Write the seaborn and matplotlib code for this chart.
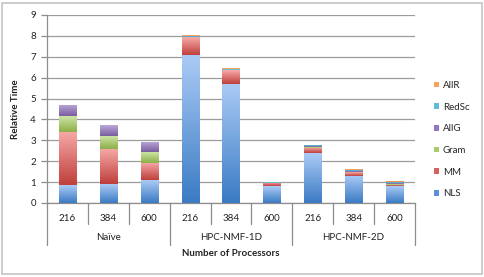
import numpy as np
import pandas as pd
import matplotlib
matplotlib.use("Agg")
import matplotlib.pyplot as plt
import seaborn as sns
from matplotlib.patches import Patch, Rectangle
from matplotlib.colors import LinearSegmentedColormap

groups = ["Naïve", "HPC-NMF-1D", "HPC-NMF-2D"]
procs = ["216", "384", "600"]
components = ["NLS", "MM", "Gram", "AllG", "RedSc", "AllR"]

nls   = [0.85, 0.90, 1.09, 7.08, 5.71, 0.80, 2.39, 1.31, 0.80]
mm    = [2.55, 1.68, 0.82, 0.85, 0.65, 0.15, 0.25, 0.16, 0.08]
gram  = [0.77, 0.64, 0.54, 0.01, 0.01, 0.005, 0.02, 0.02, 0.02]
allg  = [0.53, 0.50, 0.48, 0.02, 0.02, 0.01, 0.05, 0.05, 0.05]
redsc = [0.00, 0.00, 0.00, 0.05, 0.04, 0.02, 0.05, 0.05, 0.05]
allr  = [0.00, 0.00, 0.00, 0.04, 0.04, 0.03, 0.04, 0.04, 0.05]
values = [nls, mm, gram, allg, redsc, allr]

# (top, bottom) gradient colours, Excel 2007 style
grad = {
    "NLS":   ("#AACAF5", "#3B7BC4"),
    "MM":    ("#F6AAA8", "#BF3F3C"),
    "Gram":  ("#D2E8AA", "#8BAF48"),
    "AllG":  ("#BBA9D8", "#7A5E9F"),
    "RedSc": ("#A2DAEB", "#38A0C0"),
    "AllR":  ("#FCC28C", "#F0872E"),
}
solid = {"NLS": "#5B8FD6", "MM": "#D9605D", "Gram": "#A8CB6A",
         "AllG": "#9279B8", "RedSc": "#5FBCD8", "AllR": "#F6A25A"}

cats = [f"{g}|{p}" for g in groups for p in procs]

sns.set_theme(style="white")
plt.rcParams["font.family"] = ["Lato", "DejaVu Sans"]

W, H = 485, 277
fig = plt.figure(figsize=(W / 100, H / 100), dpi=100)
ax = fig.add_axes([47 / W, 1 - 203 / H, (415 - 47) / W, (203 - 15) / H])

bottom = np.zeros(len(cats))
bar_comp = []
for comp, vals in zip(components, values):
    vals = np.array(vals)
    n_before = len(ax.patches)
    sns.barplot(x=cats, y=vals, bottom=bottom, color=solid[comp], width=0.42,
                ax=ax, order=cats, saturation=1, linewidth=0, zorder=3)
    for p in ax.patches[n_before:]:
        bar_comp.append((p, comp))
    bottom = bottom + vals

ax.set_xlim(-0.5, len(cats) - 0.5)
ax.set_ylim(0, 9)

# gradient fills clipped to bars
for p, comp in bar_comp:
    h = p.get_height()
    if h <= 0:
        continue
    top, bot = grad[comp]
    cmap = LinearSegmentedColormap.from_list("g", [bot, top])
    grad_arr = np.linspace(0, 1, 64).reshape(-1, 1)
    x0, y0, w = p.get_x(), p.get_y(), p.get_width()
    im = ax.imshow(grad_arr, cmap=cmap, origin="lower", aspect="auto",
                   extent=(x0, x0 + w, y0, y0 + h), zorder=4, interpolation="bilinear")
    im.set_clip_path(p)
ax.set_xlim(-0.5, len(cats) - 0.5)
ax.set_ylim(0, 9)

# grid and axes
ax.set_yticks(range(10))
ax.yaxis.grid(True, color="#9c9c9c", lw=0.9, zorder=0)
ax.xaxis.grid(False)
for s in ["top", "right"]:
    ax.spines[s].set_visible(False)
for s in ["left", "bottom"]:
    ax.spines[s].set_color("#8c8c8c")
    ax.spines[s].set_linewidth(0.9)
ax.tick_params(axis="y", length=4, width=0.9, color="#8c8c8c", pad=4,
               labelsize=7, labelcolor="#222222", left=True)
ax.set_xticks(range(len(cats)))
ax.set_xticklabels([c.split("|")[1] for c in cats])
ax.tick_params(axis="x", length=0, pad=8, labelsize=7, labelcolor="#222222")
ax.set_xlabel("")
ax.set_ylabel("Relative Time", fontsize=7, fontweight="bold", labelpad=7, color="#222222")

# multi-level category separators
tr = ax.get_xaxis_transform()
ah = 203 - 15
for i in range(len(cats) + 1):
    xpos = i - 0.5
    depth = 42 if i % len(procs) == 0 else 21
    ax.plot([xpos, xpos], [0, -depth / ah], transform=tr, color="#8c8c8c",
            lw=0.9, clip_on=False, zorder=1)
for gi, g in enumerate(groups):
    xc = gi * len(procs) + (len(procs) - 1) / 2
    ax.text(xc, -35 / ah, g, transform=tr, ha="center", va="center",
            fontsize=7, color="#222222")
ax.text((len(cats) - 1) / 2, -51 / ah, "Number of Processors", transform=tr,
        ha="center", va="center", fontsize=7, fontweight="bold", color="#222222")

# legend
handles = [Patch(facecolor=solid[c], edgecolor="none", label=c) for c in reversed(components)]
fig.legend(handles=handles, loc="upper left", bbox_to_anchor=(434 / W, 1 - 81 / H),
           frameon=False, fontsize=7, handlelength=0.55, handleheight=0.55,
           handletextpad=0.35, labelspacing=1.3, borderaxespad=0, borderpad=0)

# chart border
fig.patches.append(Rectangle((2 / W, 3 / H), 480 / W, 271 / H, transform=fig.transFigure,
                             fill=False, edgecolor="#c4c4c4", lw=1.2))

fig.savefig("out.png", dpi=100)
